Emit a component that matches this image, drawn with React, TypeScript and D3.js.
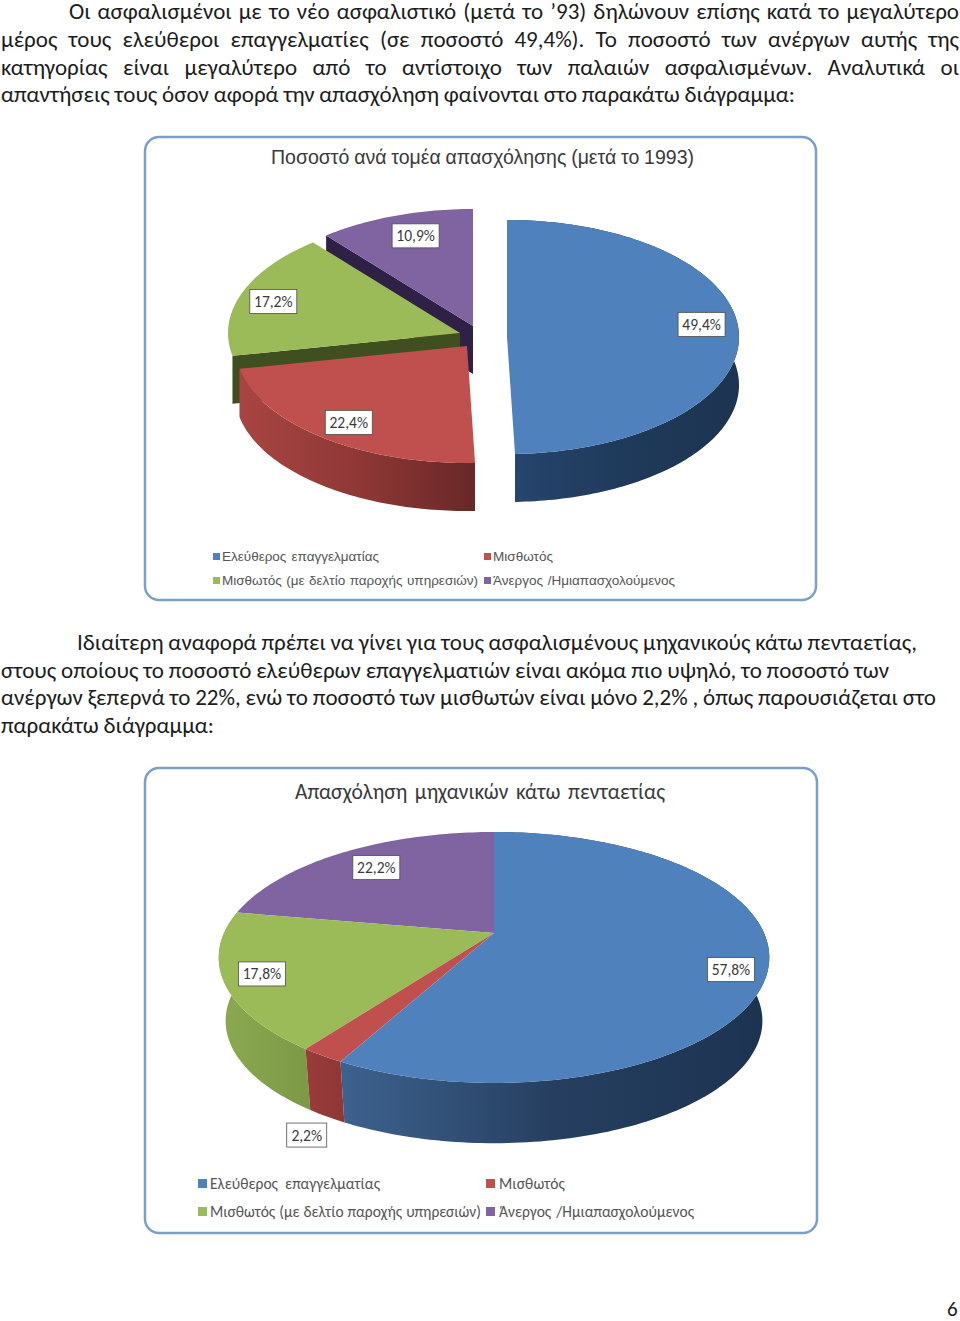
import React, { useEffect, useRef } from 'react';
import * as d3 from 'd3';

const categories = [
  'Ελεύθερος επαγγελματίας',
  'Μισθωτός',
  'Μισθωτός (με δελτίο παροχής υπηρεσιών)',
  'Άνεργος /Ημιαπασχολούμενος',
];
const sectorValues = [49.4, 22.4, 17.2, 10.9];
const engineerValues = [57.8, 2.2, 17.8, 22.2];
const sectorTitle = 'Ποσοστό ανά τομέα απασχόλησης (μετά το 1993)';
const engineerTitle = 'Απασχόληση μηχανικών κάτω πενταετίας';

const topColors = ['#4f81bd', '#c0504d', '#9bbb59', '#8064a2'];
// only the pulled-out green and purple slices show their cut side
const cutColors = [null, null, '#3f4f1f', '#2e2145'];
const sectorWalls = [['#26466e', '#1f3a5a', '#1c3450'], ['#a84542', '#8f3836', '#682827'], [], []];
const engineerWalls = [['#3d628e', '#263f60', '#1c3350'], ['#993c3a', '#8f3735'], ['#8aa950', '#7c9a46'], []];

const paragraphOne = [
  'Οι ασφαλισμένοι με το νέο ασφαλιστικό (μετά το ’93) δηλώνουν επίσης κατά το μεγαλύτερο',
  'μέρος τους ελεύθεροι επαγγελματίες (σε ποσοστό 49,4%). Το ποσοστό των ανέργων αυτής της',
  'κατηγορίας είναι μεγαλύτερο από το αντίστοιχο των παλαιών ασφαλισμένων. Αναλυτικά οι',
  'απαντήσεις τους όσον αφορά την απασχόληση φαίνονται στο παρακάτω διάγραμμα:',
];
const paragraphTwo = [
  'Ιδιαίτερη αναφορά πρέπει να γίνει για τους ασφαλισμένους μηχανικούς κάτω πενταετίας,',
  'στους οποίους το ποσοστό ελεύθερων επαγγελματιών είναι ακόμα πιο υψηλό, το ποσοστό των',
  'ανέργων ξεπερνά το 22%, ενώ το ποσοστό των μισθωτών είναι μόνο 2,2% , όπως παρουσιάζεται στο',
  'παρακάτω διάγραμμα:',
];

const BODY_FONT = 'Carlito, Lato, "Open Sans", sans-serif';
const ARIAL = '"Liberation Sans", Arial, sans-serif';

// [x, baseline, width]
const paragraphOneLayout = [[69, 19, 890], [1, 47, 958], [1, 75, 958], [1, 102, 794]];
const paragraphTwoLayout = [[77, 650, 840], [1, 678, 888], [1, 705, 935], [1, 733, 213]];

const sectorChart = {
  id: 'sector',
  frame: { x: 145, y: 137, w: 671, h: 463 },
  title: { text: sectorTitle, x: 271, y: 164, w: 423, size: 19.5, font: ARIAL },
  values: sectorValues,
  walls: sectorWalls,
  a: 232, b: 117, k: 0, depth: 48, taper: 1, cuts: true,
  centers: [[507, 337], [467, 346], [460, 333], [473, 326]],
  nudges: [[9, -11], [-3, 3], [-12, 0], [5, -2]],
  legend: {
    font: ARIAL, size: 13.5, swatch: 7,
    items: [[213, 561, 222, 157], [484, 561, 493, 60], [213, 585, 222, 256], [484, 585, 493, 182]],
  },
};

const engineerChart = {
  id: 'engineer',
  frame: { x: 145, y: 768, w: 672, h: 465 },
  title: { text: engineerTitle, x: 295, y: 799, w: 370, size: 21.5, font: BODY_FONT },
  values: engineerValues,
  walls: engineerWalls,
  a: 270, b: 120.7, k: 0.195, depth: 64, taper: 0.975, cuts: false,
  centers: [[494, 933], [494, 933], [494, 933], [494, 933]],
  nudges: [[17, 12], [-50, 104], [-16, 2], [3, -1]],
  legend: {
    font: BODY_FONT, size: 15.5, swatch: 9,
    items: [[198, 1189, 210, 170], [486, 1189, 499, 66], [198, 1217, 210, 271], [486, 1217, 499, 195]],
  },
};

const percentLabel = (v: number) => `${v.toFixed(1).replace('.', ',')}%`;

function Pie3D({ chart }: { chart: typeof sectorChart }) {
  const slices = d3.pie<number>().sort(null)(chart.values);
  const toXY = (center: number[], phi: number, r = 1, lower = false) => {
    const w = 1 + chart.k * Math.cos(phi);
    const t = lower ? chart.taper : 1;
    return [
      center[0] + (r * t * chart.a * Math.sin(phi)) / w,
      center[1] - (r * t * chart.b * Math.cos(phi)) / w + (lower ? chart.depth : 0),
    ] as [number, number];
  };
  const rim = (a0: number, a1: number) => [...d3.range(a0, a1, 0.02), a1];
  const line = d3.line();
  const { frame, title, legend } = chart;

  return (
    <g>
      <rect x={frame.x} y={frame.y} width={frame.w} height={frame.h} rx={14} fill="#fff" stroke="#7b9fc7" strokeWidth={2.5} />
      <text data-fit={title.w} x={title.x} y={title.y} fontFamily={title.font} fontSize={title.size} fill="#3a3a3a">{title.text}</text>

      <defs>
        {chart.walls.map((stops, i) => (
          <linearGradient key={i} id={`${chart.id}-wall-${i}`}>
            {stops.map((c, j) => <stop key={j} offset={j / (stops.length - 1)} stopColor={c} />)}
          </linearGradient>
        ))}
      </defs>

      {/* back to front: purple, green, red, blue */}
      {d3.range(slices.length - 1, -1, -1).map(i => {
        const s = slices[i];
        const c = chart.centers[i];
        const angles = rim(s.startAngle, s.endAngle);
        const upper = angles.map(p => toXY(c, p));
        const lower = angles.map(p => toXY(c, p, 1, true)).reverse();
        const tip = toXY(c, 0, 0);
        const tipLow = toXY(c, 0, 0, true);
        return (
          <g key={i}>
            {chart.cuts && cutColors[i] && (
              <path fill={cutColors[i]!}
                d={line([tip, toXY(c, s.startAngle), toXY(c, s.startAngle, 1, true), tipLow])! + 'Z'} />
            )}
            {chart.walls[i].length > 0 && (
              <path fill={`url(#${chart.id}-wall-${i})`} d={line([...upper, ...lower])! + 'Z'} />
            )}
            <path fill={topColors[i]} d={line([tip, ...upper])! + 'Z'} />
          </g>
        );
      })}

      {slices.map((s, i) => {
        const mid = (s.startAngle + s.endAngle) / 2;
        const [px, py] = toXY(chart.centers[i], mid, 0.8);
        const x = px + chart.nudges[i][0];
        const y = py + chart.nudges[i][1];
        const text = percentLabel(chart.values[i]);
        const w = text.length * 7 + 12;
        return (
          <g key={i}>
            <rect x={x - w / 2} y={y - 12} width={w} height={24} fill="#fff" stroke="#4d4d4d" strokeWidth={0.8} />
            <text x={x} y={y + 5.5} textAnchor="middle" fontFamily={BODY_FONT} fontSize={15.5} fill="#3a3a3a">{text}</text>
          </g>
        );
      })}

      {categories.map((name, i) => {
        const [sx, base, tx, tw] = legend.items[i];
        return (
          <g key={name}>
            <rect x={sx} y={base - legend.swatch - 1} width={legend.swatch} height={legend.swatch} fill={topColors[i]} />
            <text data-fit={tw} x={tx} y={base} fontFamily={legend.font} fontSize={legend.size} fill="#555">{name}</text>
          </g>
        );
      })}
    </g>
  );
}

export default function App() {
  const svgRef = useRef<SVGSVGElement>(null);

  // stretch every line to the width it has on the page
  useEffect(() => {
    d3.select(svgRef.current).selectAll<SVGTextElement, unknown>('text[data-fit]').each(function () {
      const target = +this.getAttribute('data-fit')!;
      const extra = target - this.getComputedTextLength();
      const text = this.textContent || '';
      const gaps = text.split(' ').length - 1;
      if (gaps > 0) this.style.wordSpacing = `${extra / gaps}px`;
      else this.style.letterSpacing = `${extra / text.length}px`;
    });
  }, []);

  const bodyLine = (t: string, l: number[]) => (
    <text key={t} data-fit={l[2]} x={l[0]} y={l[1]} fontFamily={BODY_FONT} fontSize={23} fill="#1c1c1c">{t}</text>
  );

  return (
    <svg ref={svgRef} width={960} height={1321} style={{ position: 'absolute', left: 0, top: 0, background: '#fff' }}>
      {paragraphOne.map((t, i) => bodyLine(t, paragraphOneLayout[i]))}
      <Pie3D chart={sectorChart} />
      {paragraphTwo.map((t, i) => bodyLine(t, paragraphTwoLayout[i]))}
      <Pie3D chart={engineerChart} />
      <text x={947} y={1316} fontFamily={BODY_FONT} fontSize={21} fill="#1c1c1c">6</text>
    </svg>
  );
}
